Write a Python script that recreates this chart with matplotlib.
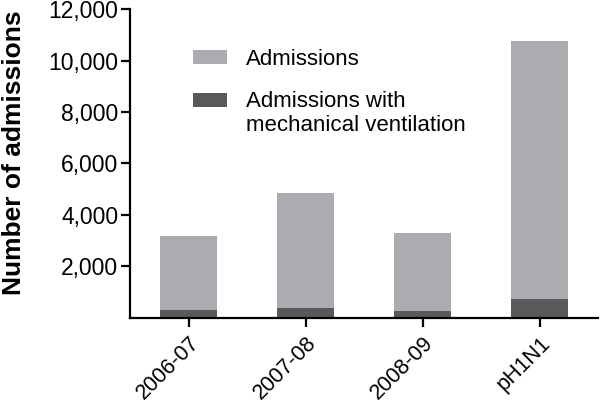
import numpy as np
import matplotlib
matplotlib.use('Agg')
import matplotlib.pyplot as plt
from matplotlib.patches import Rectangle
from matplotlib.legend_handler import HandlerPatch

plt.rcParams['font.family'] = ['Liberation Sans', 'DejaVu Sans']

seasons = ['2006-07', '2007-08', '2008-09', 'pH1N1']
admissions = [3200, 4840, 3310, 10750]
ventilated = [300, 380, 290, 740]
yticks = [2000, 4000, 6000, 8000, 10000, 12000]
labels = ['Admissions', 'Admissions with\nmechanical ventilation']

light = '#abacb0'
dark = '#58595b'


# put the legend box next to the first line of a two-line label
def make_handler(nlines):
    def top_patch(legend, orig_handle, xdescent, ydescent, width, height, fontsize):
        shift = 0.6 * fontsize * (nlines - 1)
        return Rectangle((-xdescent, -ydescent + shift), width, height)
    return HandlerPatch(patch_func=top_patch)


fig = plt.figure(figsize=(6.0, 4.04), dpi=100)
ax = fig.add_axes([0.2167, 0.2129, 0.7803, 0.7648])

x = np.arange(len(seasons))
b1 = ax.bar(x, admissions, width=0.49, color=light, edgecolor='none')
b2 = ax.bar(x, ventilated, width=0.49, color=dark, edgecolor='none')

ax.set_xlim(-0.5, 3.5)
ax.set_ylim(0, 12000)
ax.set_yticks(yticks)
ax.set_yticklabels(['{:,}'.format(v) for v in yticks])
ax.set_xticks(x)
ax.set_xticklabels(seasons, rotation=45, ha='right', rotation_mode='anchor')

for s in ['top', 'right']:
    ax.spines[s].set_visible(False)
for s in ['left', 'bottom']:
    ax.spines[s].set_linewidth(1.6)
ax.tick_params(width=1.6, length=6.5, labelsize=16.5, pad=2)
ax.tick_params(axis='x', pad=4, labelsize=15.5)

ax.set_ylabel('Number of admissions', fontsize=19, fontweight='bold')
ax.yaxis.set_label_coords(-0.222, 0.534)

h1 = b1.patches[0]
h2 = b2.patches[0]
leg = ax.legend([h1, h2], labels,
                handler_map={h1: make_handler(1), h2: make_handler(2)},
                loc='upper left', bbox_to_anchor=(0.0915, 0.935), frameon=False,
                fontsize=16, handlelength=1.55, handleheight=0.6,
                handletextpad=0.85, labelspacing=0.92)

fig.savefig('out.png', dpi=100)
